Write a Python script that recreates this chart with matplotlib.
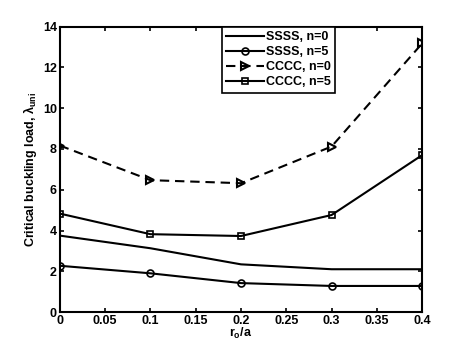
import matplotlib.pyplot as plt
import numpy as np

plt.rcParams['font.family'] = ['Liberation Sans', 'DejaVu Sans']
plt.rcParams['font.weight'] = 'bold'
plt.rcParams['mathtext.default'] = 'regular'

# data
ro_a = [0, 0.1, 0.2, 0.3, 0.4]
ssss_n0 = [3.75, 3.13, 2.34, 2.10, 2.10]
ssss_n5 = [2.27, 1.90, 1.42, 1.28, 1.28]
cccc_n0 = [8.17, 6.47, 6.32, 8.12, 13.18]
cccc_n5 = [4.83, 3.82, 3.73, 4.76, 7.70]

fig = plt.figure(figsize=(4.67, 3.51), dpi=100)
ax = fig.add_axes([0.128, 0.111, 0.776, 0.813])

ax.plot(ro_a, ssss_n0, '-', color='k', lw=1.5, label='SSSS, n=0')
ax.plot(ro_a, ssss_n5, '-o', color='k', lw=1.5, ms=5, mfc='none', mew=1.2, label='SSSS, n=5')
ax.plot(ro_a, cccc_n0, '-->', color='k', lw=1.5, ms=6, mfc='none', mew=1.5,
        dashes=(4.5, 2.8), label='CCCC, n=0')
ax.plot(ro_a, cccc_n5, '-s', color='k', lw=1.5, ms=5, mfc='none', mew=1.2, label='CCCC, n=5')

ax.set_xlim(0, 0.4)
ax.set_ylim(0, 14)
ax.set_xticks(np.arange(0, 0.401, 0.05))
ax.set_xticklabels(['0', '0.05', '0.1', '0.15', '0.2', '0.25', '0.3', '0.35', '0.4'])
ax.set_yticks(range(0, 15, 2))
ax.tick_params(direction='in', length=3, width=1.2, labelsize=9, top=True, right=True, pad=2)
for s in ax.spines.values():
    s.set_linewidth(1.5)

ax.set_xlabel('r$_o$/a', fontsize=9, fontweight='bold', labelpad=-1)
ax.set_ylabel('Critical buckling load, $\\lambda_{uni}$', fontsize=9, fontweight='bold', labelpad=3)

leg = ax.legend(loc='upper center', bbox_to_anchor=(0.604, 1.0), fontsize=9,
                fancybox=False, edgecolor='k', framealpha=1, borderaxespad=0,
                handlelength=3.0, labelspacing=0.25, handletextpad=0.2, borderpad=0.35)
leg.get_frame().set_linewidth(1.2)

fig.savefig('out.png', dpi=100)
